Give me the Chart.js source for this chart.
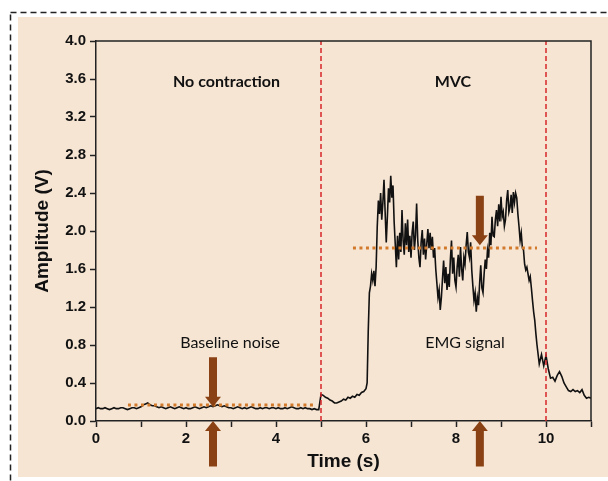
<!DOCTYPE html>
<html>
<head>
<meta charset="utf-8">
<script src="https://cdn.jsdelivr.net/npm/chart.js@4.4.1/dist/chart.umd.min.js"></script>
<style>
  html, body { margin: 0; padding: 0; background: #ffffff; }
  #wrap { width: 608px; height: 481px; position: relative; }
</style>
</head>
<body>
<div id="wrap"><canvas id="c" width="608" height="481"></canvas></div>
<script>
// EMG amplitude (V). Rest and release are stored at 50 ms steps,
// the contraction at 25 ms steps.
const restStart = 0, restStep = 0.05;
const restTrace = [
  0.13,0.14,0.13,0.13,0.14,0.13,0.12,0.13,0.14,0.13,
  0.13,0.14,0.14,0.13,0.12,0.13,0.14,0.14,0.13,0.14,
  0.15,0.17,0.18,0.19,0.17,0.16,0.16,0.15,0.14,0.15,
  0.14,0.13,0.14,0.15,0.14,0.13,0.14,0.15,0.14,0.13,
  0.14,0.13,0.13,0.14,0.15,0.14,0.13,0.14,0.15,0.14,
  0.15,0.16,0.15,0.16,0.17,0.16,0.15,0.16,0.15,0.14,
  0.14,0.13,0.14,0.15,0.14,0.13,0.14,0.13,0.14,0.15,
  0.14,0.13,0.13,0.14,0.13,0.14,0.14,0.13,0.14,0.14,
  0.13,0.14,0.13,0.13,0.14,0.13,0.14,0.15,0.14,0.13,
  0.13,0.14,0.13,0.14,0.13,0.13,0.12,0.13,0.12,0.12,
  0.28,0.27,0.25,0.24,0.22,0.21,0.19,0.19,0.20,0.21,
  0.23,0.22,0.25,0.24,0.26,0.25,0.28,0.27,0.30,0.31
];

const mvcStart = 6, mvcStep = 0.025;
const mvcTrace = [
  0.34,0.40,0.95,1.35,1.42,1.55,1.48,1.58,1.42,1.62,
  2.05,2.32,2.18,2.40,2.12,2.30,2.54,2.20,1.88,2.15,
  2.45,2.30,2.58,2.35,2.48,2.10,1.86,1.62,1.95,1.70,
  1.98,1.78,2.22,1.90,1.75,2.08,1.85,2.12,1.78,1.95,
  1.72,1.98,2.10,1.80,1.95,2.29,1.90,1.72,1.62,1.88,
  2.01,1.75,1.92,1.70,1.86,2.02,1.82,1.98,1.80,1.94,
  1.72,1.82,1.60,1.45,1.30,1.38,1.17,1.30,1.50,1.69,
  1.45,1.62,1.38,1.55,1.41,1.70,1.90,1.55,1.72,1.48,
  1.41,1.62,1.75,1.52,1.83,1.60,1.48,1.72,1.65,1.85,
  1.99,1.78,1.72,1.88,1.59,1.42,1.27,1.35,1.15,1.30,
  1.22,1.45,1.64,1.40,1.35,1.55,1.70,1.60,1.80,1.72,
  1.98,1.85,2.15,1.95,1.94,2.12,2.22,2.05,2.28,2.10,
  2.36,2.15,2.20,2.05,2.12,2.32,2.43,2.20,2.25,2.38,
  2.19,2.41,2.30,2.40,2.35,2.18,2.05,1.90,1.98,1.82,
  1.80,1.65,1.59,1.62,1.55,1.48,1.52,1.40,1.27,1.15,
  1.06,0.92
];

const releaseStart = 9.8, releaseStep = 0.05;
const releaseTrace = [
  0.80,0.60,0.70,0.58,0.69,0.55,0.45,0.46,0.42,0.48,
  0.52,0.47,0.40,0.36,0.32,0.31,0.33,0.31,0.32,0.30,
  0.33,0.27,0.24,0.25,0.24
];

// Phase boundaries (s): contraction onset and release
const phaseMarks = [5, 10];

// Mean levels for each phase: [start s, end s, level V]
const baselineMean = [0.71, 4.85, 0.168];
const mvcMean = [5.71, 9.8, 1.82];

// Phase captions and trace labels: [text, time s, level V, bold]
const captions = [
  ['No contraction', 2.9, 3.57, true],
  ['MVC', 7.93, 3.57, true],
  ['Baseline noise', 2.98, 0.82, false],
  ['EMG signal', 8.2, 0.82, false]
];

// Arrows: [time s, tail V, tip V]
const arrows = [
  [2.6, 0.67, 0.15],
  [2.6, -0.48, 0.0],
  [8.53, 2.37, 1.85],
  [8.53, -0.48, 0.0]
];

function toPoints(values, start, step) {
  return values.map((v, i) => ({ x: +(start + i * step).toFixed(3), y: v }));
}
const signalPoints = [
  ...toPoints(restTrace, restStart, restStep),
  ...toPoints(mvcTrace, mvcStart, mvcStep),
  ...toPoints(releaseTrace, releaseStart, releaseStep)
];

const markDatasets = phaseMarks.map(t => ({
  data: [{ x: t, y: 0 }, { x: t, y: 4 }],
  borderColor: '#d8262b',
  borderWidth: 1.5,
  borderDash: [5, 3],
  pointRadius: 0
}));

const meanDataset = (m) => ({
  data: [{ x: m[0], y: m[2] }, { x: m[1], y: m[2] }],
  borderColor: '#d27a2c',
  borderWidth: 3,
  borderDash: [3, 3.5],
  pointRadius: 0
});

const framePlugin = {
  id: 'frame',
  beforeDraw(chart) {
    const ctx = chart.ctx;
    ctx.save();
    ctx.fillStyle = '#ffffff';
    ctx.fillRect(0, 0, chart.width, chart.height);
    ctx.fillStyle = '#f7e5d3';
    ctx.fillRect(18, 17, chart.width - 18, 460);
    ctx.strokeStyle = '#222';
    ctx.lineWidth = 1.5;
    ctx.setLineDash([6, 4]);
    ctx.strokeRect(10.5, 12.5, chart.width + 20, chart.height + 20);
    ctx.restore();
  },
  afterDatasetsDraw(chart) {
    const ctx = chart.ctx;
    const a = chart.chartArea;
    const xs = chart.scales.x, ys = chart.scales.y;
    ctx.save();
    // box edges on top and right
    ctx.strokeStyle = '#222';
    ctx.lineWidth = 1.5;
    ctx.beginPath();
    ctx.moveTo(a.left, a.top);
    ctx.lineTo(a.right, a.top);
    ctx.lineTo(a.right, a.bottom);
    ctx.stroke();

    // arrows
    ctx.fillStyle = '#8a4214';
    arrows.forEach(([t, tail, tip]) => {
      const x = xs.getPixelForValue(t);
      const y0 = ys.getPixelForValue(tail);
      const y1 = ys.getPixelForValue(tip);
      const dir = y1 > y0 ? 1 : -1;
      const head = 10;
      const yb = y1 - dir * head;
      ctx.beginPath();
      ctx.moveTo(x - 4, y0);
      ctx.lineTo(x + 4, y0);
      ctx.lineTo(x + 4, yb);
      ctx.lineTo(x + 8, yb);
      ctx.lineTo(x, y1);
      ctx.lineTo(x - 8, yb);
      ctx.lineTo(x - 4, yb);
      ctx.closePath();
      ctx.fill();
    });

    // captions
    ctx.fillStyle = '#111';
    ctx.textAlign = 'center';
    ctx.textBaseline = 'middle';
    captions.forEach(([text, t, v, bold]) => {
      ctx.font = (bold ? '700 ' : '400 ') + '16px Lato';
      ctx.fillText(text, xs.getPixelForValue(t), ys.getPixelForValue(v));
    });
    ctx.restore();
  }
};

const tickFont = { family: 'Liberation Sans', size: 15, weight: 'bold' };
const titleFont = { family: 'Liberation Sans', size: 19, weight: 'bold' };

new Chart(document.getElementById('c'), {
  type: 'line',
  data: {
    datasets: [
      ...markDatasets,
      meanDataset(baselineMean),
      meanDataset(mvcMean),
      {
        data: signalPoints,
        borderColor: '#111111',
        borderWidth: 1.6,
        pointRadius: 0,
        tension: 0
      }
    ]
  },
  options: {
    responsive: false,
    animation: false,
    events: [],
    layout: { padding: { left: 18, top: 41, right: 17, bottom: 0 } },
    plugins: { legend: { display: false }, tooltip: { enabled: false } },
    scales: {
      x: {
        type: 'linear',
        min: 0, max: 11,
        afterFit(s) { s.height = 60; },
        border: { color: '#222', width: 1.5 },
        grid: { drawOnChartArea: false, drawTicks: true, tickLength: 6, tickColor: '#222', tickWidth: 1.5 },
        ticks: {
          stepSize: 1,
          autoSkip: false,
          maxRotation: 0,
          padding: 3,
          color: '#111',
          font: tickFont,
          callback: v => (v % 2 === 0 ? String(v) : '')
        },
        title: { display: true, text: 'Time (s)', color: '#111', font: titleFont, padding: { top: 0, bottom: 8 } }
      },
      y: {
        type: 'linear',
        min: 0, max: 4,
        afterFit(s) { s.width = 78; },
        border: { color: '#222', width: 1.5 },
        grid: { drawOnChartArea: false, drawTicks: true, tickLength: 6, tickColor: '#222', tickWidth: 1.5 },
        ticks: {
          stepSize: 0.4,
          autoSkip: false,
          padding: 4,
          color: '#111',
          font: tickFont,
          callback: v => Number(v).toFixed(1)
        },
        title: { display: true, text: 'Amplitude (V)', color: '#111', font: titleFont, padding: { top: 13, bottom: 0 } }
      }
    }
  },
  plugins: [framePlugin]
});
</script>
</body>
</html>
